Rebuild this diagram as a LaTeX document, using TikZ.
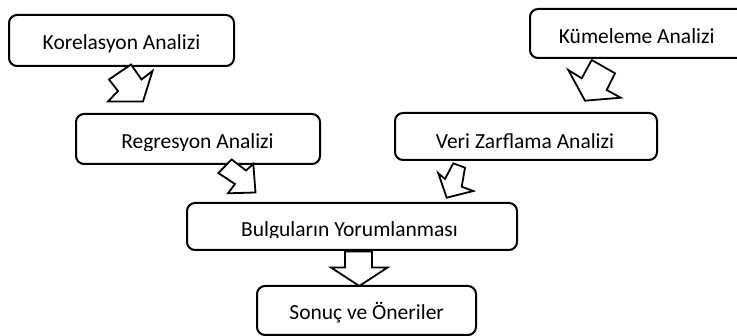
\documentclass[tikz,border=0pt]{standalone}
\usepackage{fontspec}
\setmainfont{Carlito}
\begin{document}
\begin{tikzpicture}[x=1pt,y=-1pt,
  box/.style={draw, line width=2pt, rounded corners=8pt, fill=white, inner sep=0pt},
  blk/.style={draw, line width=1.8pt, fill=white, line join=miter},
  txt/.style={anchor=base, inner sep=0pt, font=\fontsize{21.5}{26}\selectfont}]
\useasboundingbox (0,0) rectangle (737,336);
\clip (0,0) rectangle (737,336);
% boxes
\node[box, minimum width=225pt, minimum height=51pt] (kor) at (121.5,40.5) {};
\node[box, minimum width=244pt, minimum height=50pt] (reg) at (198,139) {};
\node[box, minimum width=215pt, minimum height=49pt] (kum) at (637.5,33.5) {};
\node[box, minimum width=262pt, minimum height=47pt] (veri) at (526,136.5) {};
\node[box, minimum width=330pt, minimum height=47pt] (bul) at (352,226.5) {};
\node[box, minimum width=219pt, minimum height=49pt] (son) at (366.5,310.5) {};
% block arrows
\draw[blk] (131,64.5) -- (109,79.5) -- (118,91) -- (108,101.5) -- (143,101.5) -- (152.5,71) -- (141.5,79.5) -- cycle;
\draw[blk] (591.7,60) -- (615,73.3) -- (606.7,90) -- (620.7,97.7) -- (585,100.7) -- (568.3,70) -- (581.7,78.3) -- cycle;
\draw[blk] (218.3,173) -- (231.7,159.5) -- (246,170.5) -- (253.3,164) -- (255.5,192.5) -- (228,193.3) -- (235,184) -- cycle;
\draw[blk] (453.3,163.3) -- (465,167.7) -- (461.7,186.7) -- (473.3,191) -- (446.7,197.7) -- (438.3,173.3) -- (445,179) -- cycle;
\draw[blk] (345,251.5) -- (372,251.5) -- (372,267.5) -- (387.5,267.5) -- (359.3,286) -- (331,267.5) -- (345,267.5) -- cycle;
% texts
\node[txt] (korT) at (121.5,50) {Korelasyon Analizi};
\node[txt] (kumT) at (636.7,43.3) {Kümeleme Analizi};
\node[txt] (sonT) at (366.7,319.5) {Sonuç ve Öneriler};
\begin{scope}
  \clip (76,114) rectangle (320,150.5);
  \node[txt] (regT) at (197.5,149) {Regresyon Analizi};
\end{scope}
\begin{scope}
  \clip (395,113) rectangle (657,149.5);
  \node[txt] (veriT) at (525,149) {Veri Zarflama Analizi};
\end{scope}
\begin{scope}
  \clip (187,203) rectangle (517,237.5);
  \node[txt] (bulT) at (349.5,237) {Bulguların Yorumlanması};
\end{scope}
\end{tikzpicture}
\end{document}
